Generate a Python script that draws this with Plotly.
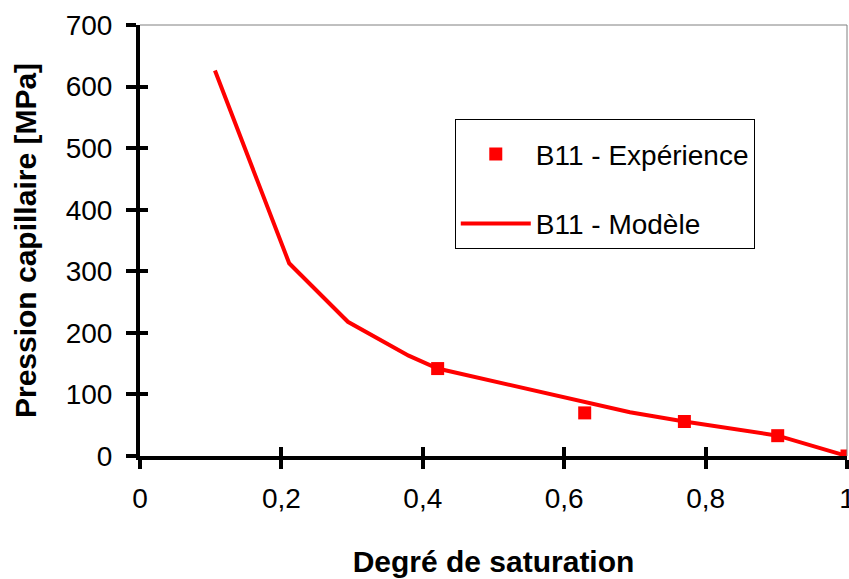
import plotly.graph_objects as go

# Data
exp_x = [0.421, 0.629, 0.770, 0.902, 1.0]
exp_y = [142, 70, 56, 33, 0]
mod_x = [0.106, 0.211, 0.294, 0.380, 0.421, 0.693, 0.770, 0.902, 1.0]
mod_y = [626, 313, 218, 163, 142, 71, 56, 33, 0]
x_ticks = [0, 0.2, 0.4, 0.6, 0.8, 1.0]
x_tick_labels = ["0", "0,2", "0,4", "0,6", "0,8", "1"]
y_ticks = [0, 100, 200, 300, 400, 500, 600, 700]

FONT = "Arial, 'Liberation Sans', sans-serif"
RED = "#FF0000"

fig = go.Figure()
fig.add_trace(go.Scatter(
    x=exp_x, y=exp_y, mode="markers", name="B11 - Expérience",
    marker=dict(symbol="square", size=13, color=RED),
    legendgroup="a",
))
fig.add_trace(go.Scatter(
    x=mod_x, y=mod_y, mode="lines", name="B11 - Modèle",
    line=dict(color=RED, width=4),
    legendgroup="b",
))
# invisible trace on second axes for crossing (inside) ticks
fig.add_trace(go.Scatter(x=[None], y=[None], yaxis="y2", xaxis="x2",
                         showlegend=False, hoverinfo="skip"))

axis_common = dict(showgrid=False, zeroline=False, automargin=False)

L, R, T, B = 140, 1.5, 24.5, 122.5
W, H = 849, 579
pw, ph = W - L - R, H - T - B

fig.update_layout(
    width=W, height=H,
    margin=dict(l=L, r=R, t=T, b=B),
    paper_bgcolor="white", plot_bgcolor="white",
    font=dict(family=FONT, size=28, color="black"),
    xaxis=dict(
        range=[0, 1], tickvals=x_ticks, ticktext=x_tick_labels,
        ticks="outside", ticklen=9, tickwidth=4, tickcolor="black",
        showline=True, linewidth=4, linecolor="black",
        tickfont=dict(size=28), ticklabelstandoff=5, ticklabeloverflow="allow",
        title=dict(text="<b>Degré de saturation</b>", font=dict(size=30), standoff=39),
        **axis_common,
    ),
    yaxis=dict(
        range=[0, 700], tickvals=y_ticks,
        ticks="outside", ticklen=10, tickwidth=4, tickcolor="black",
        showline=True, linewidth=4, linecolor="black",
        tickfont=dict(size=28), ticklabelstandoff=8, ticklabeloverflow="allow",
        title=dict(text="<b>Pression capillaire [MPa]</b>", font=dict(size=30), standoff=21),
        **axis_common,
    ),
    xaxis2=dict(range=[0, 1], tickvals=x_ticks, ticks="inside", ticklen=9,
                tickwidth=4, tickcolor="black", showticklabels=False,
                overlaying="x", showline=False, **axis_common),
    yaxis2=dict(range=[0, 700], tickvals=y_ticks, ticks="inside", ticklen=8,
                tickwidth=4, tickcolor="black", showticklabels=False,
                overlaying="y", showline=False, **axis_common),
    legend=dict(
        x=(455 - L) / pw, y=(H - B - 119) / ph, xref="paper", yref="paper",
        xanchor="left", yanchor="top",
        bordercolor="black", borderwidth=1, bgcolor="white",
        font=dict(size=28), traceorder="grouped", tracegroupgap=30,
        itemwidth=70,
        title=dict(text=" ", font=dict(size=7)),
    ),
    shapes=[
        dict(type="line", xref="paper", yref="paper", x0=0, x1=1, y0=1, y1=1,
             line=dict(color="#808080", width=1)),
        dict(type="line", xref="paper", yref="paper", x0=1, x1=1, y0=0, y1=1,
             line=dict(color="#808080", width=1)),
    ],
)

fig.write_html("out.html", config={"displayModeBar": False},
               post_script="document.body.style.margin='0';")
